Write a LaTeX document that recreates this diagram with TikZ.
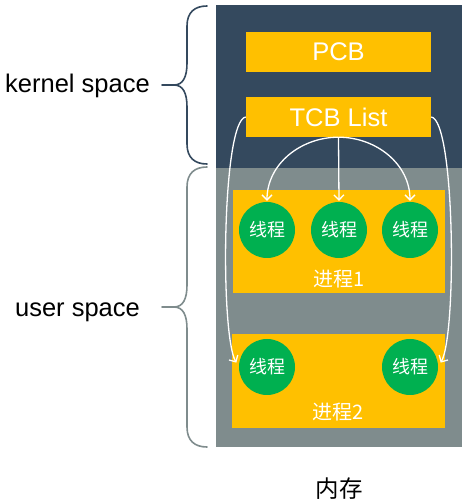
\documentclass[tikz,border=0pt]{standalone}
\usepackage{fontspec}
\setmainfont{Liberation Sans}
\newfontfamily\cjk{Noto Sans CJK SC}
\usetikzlibrary{positioning}
\usetikzlibrary{arrows.meta}
\definecolor{kernelblue}{HTML}{34495E}
\definecolor{usergray}{HTML}{7F8C8D}
\definecolor{boxyellow}{HTML}{FFC000}
\definecolor{threadgreen}{HTML}{00B050}
\tikzset{%
  regionbox/.style={rectangle,minimum width=246pt,inner sep=0pt}
}
\tikzset{%
  ctrlbox/.style={rectangle,fill=boxyellow,minimum width=185pt,minimum height=40pt,inner sep=0pt,text=white,font=\fontsize{25.5}{30}\selectfont}
}
\tikzset{%
  procbox/.style={rectangle,fill=boxyellow,inner sep=0pt}
}
\tikzset{%
  threadnode/.style={circle,fill=threadgreen,minimum size=56pt,inner sep=0pt,text=white,font=\cjk\fontsize{18}{20}\selectfont}
}
\tikzset{%
  proclabel/.style={inner sep=0pt,text=white,font=\cjk\fontsize{20}{22}\selectfont}
}
\tikzset{%
  spacelabel/.style={anchor=base,inner sep=0pt,font=\fontsize{25.5}{30}\selectfont},
  spacebrace/.style={line width=1.6pt,line cap=round,line join=round}
}
\tikzset{%
  tcbarrow/.style={white,line width=1.3pt,-{Straight Barb[length=5pt,width=10pt]}}
}

\begin{document}
\begin{tikzpicture}[x=1pt,y=1pt,node distance=6pt]
            \useasboundingbox (0,0) rectangle (467,504);
            % memory regions
            \node[regionbox,fill=kernelblue,minimum height=163pt](kernelbox) at (339,417.5){};
            \node[regionbox,fill=usergray,minimum height=279pt](userbox) at (339,196.5){};
            \node[below=30pt of userbox,inner sep=0pt,font=\cjk\fontsize{23.5}{26}\selectfont](memlabel){内存};

            % kernel side
            \node[ctrlbox](pcb) at (338.5,452){PCB};
            \node[ctrlbox](tcblist) at (338.5,387){TCB List};

            % process 1
            \node[procbox,minimum width=212pt,minimum height=103pt](procone) at (339,262.5){};
            \node[threadnode](thrdaa) at (267,274){线程};
            \node[threadnode](thrdab) at (339,274){线程};
            \node[threadnode](thrdac) at (410,274){线程};
            \node[proclabel,above=5pt of procone.south](proconelabel){进程1};

            % process 2
            \node[procbox,minimum width=213pt,minimum height=94pt](proctwo) at (338.5,123){};
            \node[threadnode](thrdba) at (267,137){线程};
            \node[threadnode](thrdbb) at (410,137){线程};
            \node[proclabel,above=7pt of proctwo.south](proctwolabel){进程2};

            % braces
            \draw[spacebrace,draw=kernelblue] (207,498) .. controls (195,498) and (187,492) .. (187,478)
                -- (187,441) .. controls (187,427) and (183,419) .. (174,419) -- (162,419) -- (174,419)
                .. controls (183,419) and (187,411) .. (187,397) -- (187,360)
                .. controls (187,346) and (195,340) .. (207,340);
            \draw[spacebrace,draw=usergray] (207,337) .. controls (195,337) and (187,331) .. (187,317)
                -- (187,219) .. controls (187,205) and (183,197) .. (174,197) -- (162,197) -- (174,197)
                .. controls (183,197) and (187,189) .. (187,175) -- (187,77)
                .. controls (187,63) and (195,57) .. (207,57);
            \node[spacelabel](kernellabel) at (77.5,411){kernel space};
            \node[spacelabel](userlabel) at (77.5,187){user space};

            % TCB list links
            \draw[tcbarrow,shorten >=1pt] (tcblist.south) to[out=180,in=90] (thrdaa.north);
            \draw[tcbarrow,shorten >=1pt] (tcblist.south) -- (thrdab.north);
            \draw[tcbarrow,shorten >=1pt] (tcblist.south) to[out=0,in=90] (thrdac.north);
            \draw[tcbarrow,shorten >=5pt] (tcblist.west) .. controls (222,384) and (220,170) .. (thrdba.west);
            \draw[tcbarrow,shorten >=5pt] (tcblist.east) .. controls (455,384) and (457,170) .. (thrdbb.east);
        \end{tikzpicture}
\end{document}
